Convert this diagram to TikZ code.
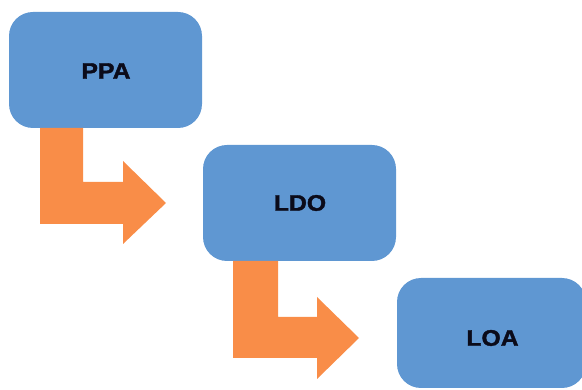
\documentclass[tikz,border=0pt]{standalone}
\usepackage{fontspec}
\setmainfont{Liberation Sans}
\newfontfamily\heavyfont[FakeBold=1.6]{Liberation Sans Bold}
\usetikzlibrary{positioning}
\definecolor{boxblue}{HTML}{5F97D2}
\definecolor{arrorange}{HTML}{F98D48}
\definecolor{txt}{HTML}{0B0B1A}
\tikzset{
  blockbox/.style={fill=boxblue, draw=none, rounded corners=24pt, inner sep=0pt},
  blocktext/.style={font=\fontsize{22.5}{22.5}\heavyfont, text=txt},
  bentarrow/.style={fill=arrorange, draw=none}
}
\newcommand{\wtext}[1]{\scalebox{1.1}[1]{#1}}
\begin{document}
\begin{tikzpicture}[x=1pt,y=-1pt]
\useasboundingbox (0,0) rectangle (582,390);
% boxes
\path[blockbox] (9,12) rectangle (202,128);
\node[blocktext] (ppa) at (106,71) {\wtext{PPA}};
\path[blockbox] (203,145) rectangle (396,261);
\node[blocktext] (ldo) at (300,203) {\wtext{LDO}};
\path[blockbox] (397,278) rectangle (586,388);
\node[blocktext] (loa) at (492.5,338) {\wtext{LOA}};
% bent arrows
\path[bentarrow] (40,128) -- (83,128) -- (83,182) -- (123,182) -- (123,161)
  -- (166,203) -- (123,244) -- (123,224) -- (40,224) -- cycle;
\path[bentarrow] (233,261) -- (278,261) -- (278,317) -- (317,317) -- (317,297)
  -- (359,338) -- (317,379) -- (317,358) -- (233,358) -- cycle;
\end{tikzpicture}
\end{document}
